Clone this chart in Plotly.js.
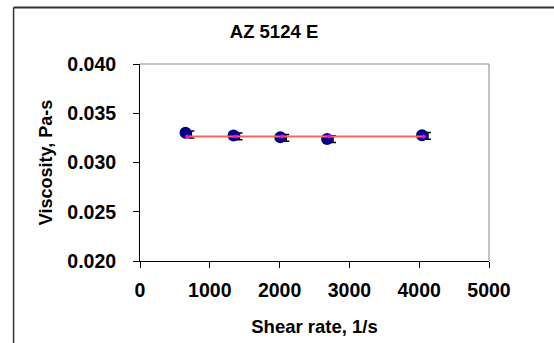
<!DOCTYPE html>
<html>
<head>
<meta charset="utf-8">
<script src="https://cdn.plot.ly/plotly-3.0.1.min.js"></script>
<style>html,body{margin:0;padding:0;background:#fff;}#chart{width:554px;height:343px;}</style>
</head>
<body>
<div id="chart"></div>
<script>
// Measured data (viscosity vs shear rate)
const shearRate = [652, 1340, 2010, 2680, 4040];
const viscosity = [0.03303, 0.03273, 0.03257, 0.03239, 0.03277];
const errX = [735, 1425, 2095, 2765, 4125];
const errY = [0.03285, 0.03265, 0.03250, 0.03237, 0.03270];
const errSize = [0.00035, 0.00035, 0.00035, 0.00035, 0.00035];
// Mean line
const meanX = [676, 1368, 2037, 2705, 4066];
const meanY = [0.03263, 0.03263, 0.03263, 0.03263, 0.03263];
const xTicks = [0, 1000, 2000, 3000, 4000, 5000];
const yTicks = [0.020, 0.025, 0.030, 0.035, 0.040];

const font = {family: 'Liberation Sans, Arial, sans-serif', color: '#000'};

const traces = [
  {x: errX, y: errY, mode: 'markers', type: 'scatter',
   marker: {size: 1, color: 'rgba(0,0,0,0)'},
   error_y: {type: 'data', array: errSize, visible: true, color: '#000', thickness: 1.5, width: 3},
   hoverinfo: 'skip', showlegend: false},
  {x: shearRate, y: viscosity, mode: 'markers', type: 'scatter',
   marker: {size: 12, color: '#000080', line: {width: 0}}, showlegend: false},
  {x: meanX, y: meanY, mode: 'lines+markers', type: 'scatter',
   line: {color: '#FF6060', width: 2},
   marker: {size: 4, color: '#FF00FF'}, showlegend: false}
];

const layout = {
  width: 554, height: 343,
  margin: {l: 139.5, r: 65.3, t: 64.3, b: 82.3},
  paper_bgcolor: '#fff', plot_bgcolor: '#fff',
  title: {text: '<b>AZ 5124 E</b>', font: Object.assign({size: 18.5}, font),
          x: 274/554, xref: 'container', xanchor: 'center', y: 1 - 32/343, yref: 'container', yanchor: 'middle'},
  xaxis: {
    range: [0, 5000], tickvals: xTicks, ticktext: xTicks.map(v => '<b>' + v + '</b>'),
    showgrid: false, zeroline: false, showline: true, linecolor: '#000', linewidth: 1,
    ticks: 'outside', ticklen: 6, tickcolor: '#000', ticklabelstandoff: 6,
    tickfont: Object.assign({size: 19.5}, font),
    title: {text: '<b>Shear rate, 1/s</b>', font: Object.assign({size: 18.5}, font), standoff: 19}
  },
  yaxis: {
    range: [0.020, 0.040], tickvals: yTicks, ticktext: yTicks.map(v => '<b>' + v.toFixed(3) + '</b>'),
    showgrid: false, zeroline: false, showline: true, linecolor: '#000', linewidth: 1,
    ticks: 'outside', ticklen: 6, tickcolor: '#000', ticklabelstandoff: 13,
    tickfont: Object.assign({size: 19.5}, font),
    title: {text: '<b>Viscosity, Pa-s</b>', font: Object.assign({size: 18}, font), standoff: 9}
  },
  shapes: [
    {type: 'line', xref: 'paper', yref: 'paper', x0: 0, x1: 1, y0: 1, y1: 1, line: {color: '#888', width: 1}},
    {type: 'line', xref: 'paper', yref: 'paper', x0: 1, x1: 1, y0: 0, y1: 1, line: {color: '#888', width: 1}},
    {type: 'line', xref: 'paper', yref: 'paper', x0: -126.5/349.2, x1: 1.2, y0: 252.7/196.4, y1: 252.7/196.4, line: {color: '#333', width: 2}},
    {type: 'line', xref: 'paper', yref: 'paper', x0: -126.5/349.2, x1: -126.5/349.2, y0: 252.7/196.4, y1: -0.5, line: {color: '#333', width: 1.5}}
  ]
};

Plotly.newPlot('chart', traces, layout, {displayModeBar: false, staticPlot: true});
</script>
</body>
</html>
